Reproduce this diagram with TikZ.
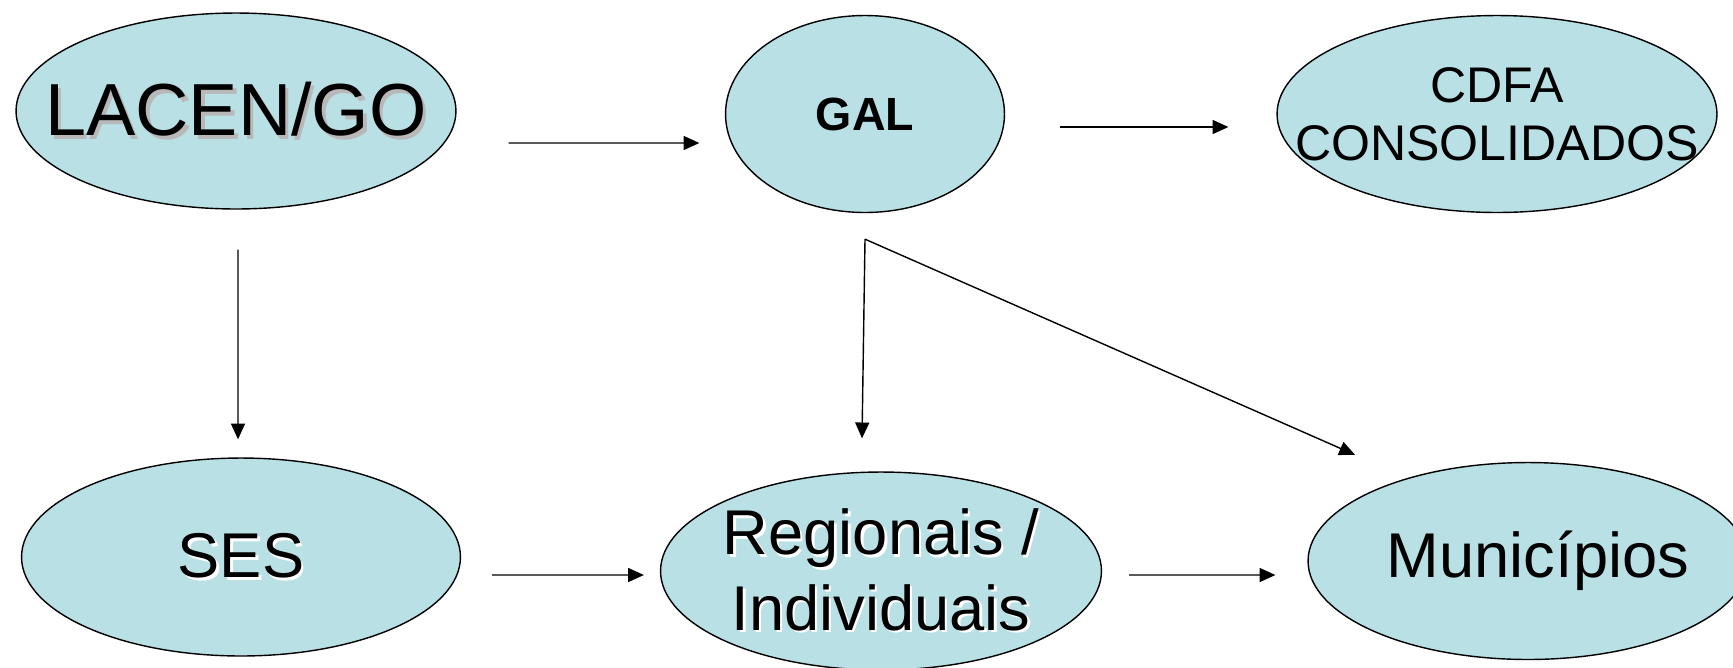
\documentclass[tikz,border=0pt]{standalone}
\usepackage{fontspec}
\setmainfont{Liberation Sans}
\usetikzlibrary{shapes.geometric,arrows.meta}
\definecolor{celeste}{RGB}{185,224,228}
\newcommand\grayshade[1]{\rlap{\hspace{2pt}\raisebox{-2pt}{\color{black!28}#1}}#1}
\newcommand\whiteshade[1]{\rlap{\hspace{1.4pt}\raisebox{-1.4pt}{\color{white}#1}}#1}

\begin{document}
\begin{tikzpicture}[x=0.02cm,y=-0.02cm,
	bubble/.style={ellipse,draw,line width=0.8pt,fill=celeste,inner xsep=-40pt,inner ysep=-12pt,align=center},
	flow/.style={line width=0.8pt,-{Triangle[length=9pt,width=8pt]}}]
	\useasboundingbox[fill=white] (0,0) rectangle (1733,667);
	\node[bubble,minimum width=8.8cm,minimum height=3.92cm,font=\fontsize{42}{50}\selectfont]
		(lacen) at (236,111) {\grayshade{LACEN/GO}};
	\node[bubble,minimum width=5.58cm,minimum height=3.94cm,font=\fontsize{26.5}{31}\selectfont\bfseries]
		(gal) at (865,114) {GAL};
	\node[bubble,minimum width=8.8cm,minimum height=3.94cm,font=\fontsize{28.5}{33}\selectfont]
		(cdfa) at (1497,114) {CDFA\\CONSOLIDADOS};
	\node[bubble,minimum width=8.78cm,minimum height=3.96cm,font=\fontsize{36}{43}\selectfont]
		(ses) at (241,557) {\whiteshade{SES}};
	\node[bubble,minimum width=8.82cm,minimum height=3.96cm,font=\fontsize{36}{43}\selectfont]
		(reg) at (881,571) {\whiteshade{Regionais /}\\\whiteshade{Individuais}};
	\node[bubble,minimum width=8.8cm,minimum height=3.94cm,font=\fontsize{36}{43}\selectfont]
		(mun) at (1528,561) {\hspace{0.4cm}Municípios};
	\coordinate (galfoot) at ([yshift=-0.52cm]gal.south);
	\draw[flow] ([xshift=1.04cm,yshift=-0.64cm]lacen.east) -- ([xshift=-0.51cm,yshift=-0.58cm]gal.west);
	\draw[flow] ([xshift=1.1cm,yshift=-0.26cm]gal.east) -- ([xshift=-0.96cm,yshift=-0.26cm]cdfa.west);
	\draw[flow] ([xshift=0.04cm,yshift=-0.8cm]lacen.south) -- ([xshift=-0.06cm,yshift=0.36cm]ses.north);
	\draw[flow] (galfoot) -- ([xshift=-0.38cm,yshift=0.66cm]reg.north);
	\draw[flow] (galfoot) -- ([xshift=-3.46cm,yshift=0.14cm]mun.north);
	\draw[flow] ([xshift=0.62cm,yshift=-0.36cm]ses.east) -- ([xshift=-0.32cm,yshift=-0.08cm]reg.west);
	\draw[flow] ([xshift=0.54cm,yshift=-0.08cm]reg.east) -- ([xshift=-0.64cm,yshift=-0.28cm]mun.west);
\end{tikzpicture}
\end{document}
